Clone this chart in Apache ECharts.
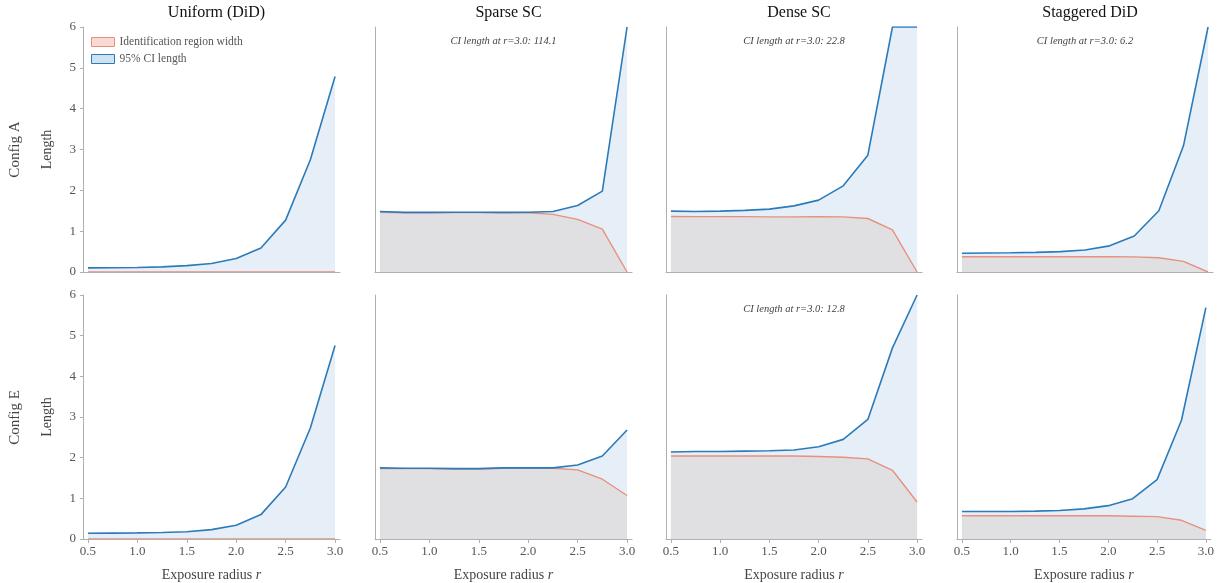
<!DOCTYPE html>
<html>
<head>
<meta charset="utf-8">
<script src="https://cdn.jsdelivr.net/npm/echarts@6/dist/echarts.min.js"></script>
<style>
html,body{margin:0;padding:0;background:#fff;}
#chart{width:1217px;height:583px;}
</style>
</head>
<body>
<div id="chart"></div>
<script>
// ---- data ----
const R = [0.5, 0.75, 1.0, 1.25, 1.5, 1.75, 2.0, 2.25, 2.5, 2.75, 3.0];
const X_TICKS = [0.5, 1.0, 1.5, 2.0, 2.5, 3.0];
const METHODS = ['Uniform (DiD)', 'Sparse SC', 'Dense SC', 'Staggered DiD'];
const CONFIGS = ['Config A', 'Config E'];
const Y_MAX = 6;

// Config A
const ciA_uniform   = [0.10, 0.105, 0.11, 0.125, 0.155, 0.21, 0.33, 0.59, 1.27, 2.75, 4.79];
const idA_uniform   = [0, 0, 0, 0, 0, 0, 0, 0, 0, 0, 0];
const ciA_sparse    = [1.48, 1.46, 1.46, 1.465, 1.465, 1.46, 1.465, 1.48, 1.63, 1.98, 114.1];
const idA_sparse    = [1.46, 1.45, 1.45, 1.455, 1.455, 1.45, 1.45, 1.41, 1.29, 1.05, 0.0];
const ciA_dense     = [1.49, 1.48, 1.49, 1.51, 1.54, 1.62, 1.76, 2.11, 2.86, 6.0, 22.8];
const idA_dense     = [1.36, 1.355, 1.355, 1.355, 1.35, 1.35, 1.355, 1.35, 1.31, 1.03, 0.0];
const ciA_staggered = [0.46, 0.465, 0.47, 0.48, 0.50, 0.54, 0.64, 0.88, 1.50, 3.09, 6.2];
const idA_staggered = [0.375, 0.375, 0.375, 0.375, 0.375, 0.375, 0.375, 0.37, 0.35, 0.26, 0.0];
// Config E
const ciE_uniform   = [0.14, 0.145, 0.15, 0.16, 0.18, 0.23, 0.34, 0.60, 1.28, 2.73, 4.76];
const idE_uniform   = [0, 0, 0, 0, 0, 0, 0, 0, 0, 0, 0];
const ciE_sparse    = [1.75, 1.74, 1.74, 1.73, 1.73, 1.75, 1.75, 1.75, 1.82, 2.04, 2.68];
const idE_sparse    = [1.73, 1.73, 1.73, 1.72, 1.72, 1.74, 1.74, 1.74, 1.70, 1.47, 1.07];
const ciE_dense     = [2.14, 2.15, 2.15, 2.16, 2.17, 2.19, 2.27, 2.45, 2.94, 4.70, 12.8];
const idE_dense     = [2.04, 2.04, 2.04, 2.04, 2.04, 2.04, 2.03, 2.01, 1.97, 1.69, 0.91];
const ciE_staggered = [0.675, 0.675, 0.675, 0.685, 0.70, 0.74, 0.82, 0.99, 1.46, 2.92, 5.69];
const idE_staggered = [0.57, 0.57, 0.57, 0.57, 0.57, 0.57, 0.57, 0.56, 0.55, 0.46, 0.21];

const PANELS = [
  [ {ci: ciA_uniform, id: idA_uniform}, {ci: ciA_sparse, id: idA_sparse}, {ci: ciA_dense, id: idA_dense}, {ci: ciA_staggered, id: idA_staggered} ],
  [ {ci: ciE_uniform, id: idE_uniform}, {ci: ciE_sparse, id: idE_sparse}, {ci: ciE_dense, id: idE_dense}, {ci: ciE_staggered, id: idE_staggered} ]
];

// ---- layout / style ----
const FONT = '"Liberation Serif", "Times New Roman", serif';
const GRID_LEFT = [83, 375, 666, 957];
const GRID_WIDTH = [257, 257, 256, 256];
const GRID_TOP = [27, 295];
const GRID_HEIGHT = 245;
const AXIS_COLOR = '#b0b0b0';
const LABEL_COLOR = '#555';
const BLUE = '#2b7bba';
const RED = '#e8907e';
const BLUE_FILL = '#e6eff8';
const GREY_FILL = '#e0e0e2';

const grids = [], xAxes = [], yAxes = [], series = [], titles = [], graphics = [];
const clip = v => Math.min(v, Y_MAX);

for (let r = 0; r < 2; r++) {
  for (let c = 0; c < 4; c++) {
    const k = r * 4 + c;
    grids.push({left: GRID_LEFT[c], top: GRID_TOP[r], width: GRID_WIDTH[c], height: GRID_HEIGHT, containLabel: false});
    const bottomRow = r === 1;
    xAxes.push({
      type: 'value', gridIndex: k, min: 0.45, max: 3.05, z: 10,
      axisLine: {show: true, lineStyle: {color: AXIS_COLOR, width: 1.2}},
      axisTick: {show: bottomRow, customValues: X_TICKS, length: 4, lineStyle: {color: AXIS_COLOR}},
      axisLabel: {show: bottomRow, customValues: X_TICKS, formatter: v => v.toFixed(1), color: LABEL_COLOR, fontFamily: FONT, fontSize: 13, margin: 6},
      splitLine: {show: false},
      name: bottomRow ? '{n|Exposure radius }{i|r}' : '',
      nameLocation: 'middle', nameGap: 29,
      nameTextStyle: {rich: {n: {fontFamily: FONT, fontSize: 14, color: '#444'}, i: {fontFamily: FONT, fontSize: 14, fontStyle: 'italic', color: '#444'}}}
    });
    const firstCol = c === 0;
    yAxes.push({
      type: 'value', gridIndex: k, min: 0, max: Y_MAX, interval: 1, z: 10,
      axisLine: {show: true, lineStyle: {color: AXIS_COLOR, width: 1}},
      axisTick: {show: firstCol, length: 3, lineStyle: {color: AXIS_COLOR}},
      axisLabel: {show: firstCol, color: LABEL_COLOR, fontFamily: FONT, fontSize: 13, margin: 7},
      splitLine: {show: false},
      name: firstCol ? 'Length' : '', nameLocation: 'middle', nameGap: 29,
      nameTextStyle: {fontFamily: FONT, fontSize: 14, color: '#444'}
    });
    const p = PANELS[r][c];
    const ciData = R.map((x, i) => [x, clip(p.ci[i])]);
    const idData = R.map((x, i) => [x, clip(p.id[i])]);
    series.push({
      name: '95% CI length', type: 'line', xAxisIndex: k, yAxisIndex: k, data: ciData,
      showSymbol: false, symbol: 'none', z: 1, silent: true,
      lineStyle: {width: 0, color: BLUE}, itemStyle: {color: BLUE}, areaStyle: {color: BLUE_FILL, opacity: 1}
    });
    series.push({
      name: 'Identification region width', type: 'line', xAxisIndex: k, yAxisIndex: k, data: idData,
      showSymbol: false, symbol: 'none', z: 2, silent: true,
      lineStyle: {width: 1.4, color: RED}, itemStyle: {color: RED}, areaStyle: {color: GREY_FILL, opacity: 1}
    });
    series.push({
      name: '95% CI length', type: 'line', xAxisIndex: k, yAxisIndex: k, data: ciData,
      showSymbol: false, symbol: 'none', z: 3, silent: true,
      lineStyle: {width: 1.6, color: BLUE}, itemStyle: {color: BLUE}
    });
    const last = p.ci[p.ci.length - 1];
    if (last > Y_MAX) {
      graphics.push({
        type: 'text', x: GRID_LEFT[c] + GRID_WIDTH[c] / 2, y: GRID_TOP[r] + 14,
        style: {text: 'CI length at r=3.0: ' + last.toFixed(1), fontFamily: FONT, fontSize: 10.5, fontStyle: 'italic', fill: '#444', textAlign: 'center', textVerticalAlign: 'middle'}
      });
    }
  }
}

METHODS.forEach((m, c) => {
  titles.push({text: m, left: GRID_LEFT[c] + GRID_WIDTH[c] / 2, top: 0, textAlign: 'center',
    textStyle: {fontFamily: FONT, fontSize: 16, fontWeight: 'normal', color: '#111'}});
});
CONFIGS.forEach((cfg, r) => {
  graphics.push({type: 'text', x: 15, y: GRID_TOP[r] + GRID_HEIGHT / 2, rotation: Math.PI / 2,
    style: {text: cfg, fontFamily: FONT, fontSize: 15, fill: '#444', textAlign: 'center', textVerticalAlign: 'middle'}});
});

const chart = echarts.init(document.getElementById('chart'), null, {renderer: 'canvas'});
chart.setOption({
  animation: false,
  backgroundColor: '#fff',
  title: titles,
  grid: grids,
  xAxis: xAxes,
  yAxis: yAxes,
  series: series,
  graphic: graphics,
  legend: {
    orient: 'vertical', left: 91, top: 36, padding: 0, icon: 'rect', itemWidth: 23, itemHeight: 9, itemGap: 5,
    selectedMode: false,
    textStyle: {fontFamily: FONT, fontSize: 11.5, color: '#555'},
    data: [
      {name: 'Identification region width', itemStyle: {color: '#f9d9d3', borderColor: RED, borderWidth: 1}},
      {name: '95% CI length', itemStyle: {color: '#cfe2f1', borderColor: BLUE, borderWidth: 1}}
    ]
  }
});
</script>
</body>
</html>
